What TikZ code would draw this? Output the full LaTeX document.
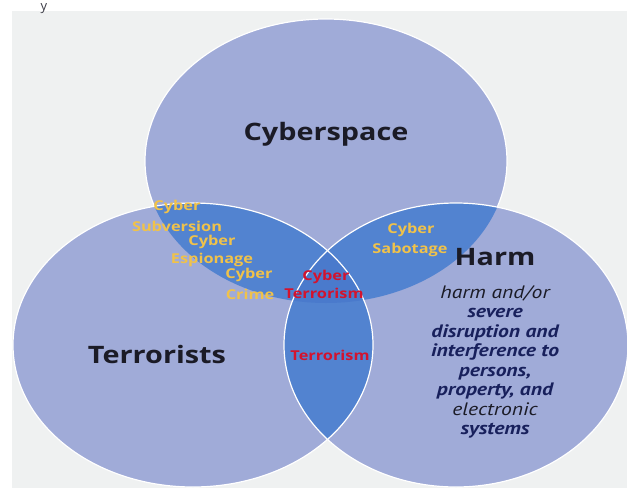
\documentclass[tikz,border=0pt]{standalone}
\usepackage{fontspec}
\usepackage{graphicx}
\setmainfont{Open Sans}
\newfontfamily\ptsans{PT Sans}
\newcommand{\hsx}[1]{\scalebox{1.2}[1]{#1}}
\definecolor{panel}{HTML}{EFF1F1}
\definecolor{ell}{HTML}{A0ABD8}
\definecolor{ovl}{HTML}{5283D0}
\definecolor{tri}{HTML}{4A7ACC}
\definecolor{gold}{HTML}{F0C24A}
\definecolor{redt}{HTML}{D3132E}
\definecolor{navy}{HTML}{18205C}
\definecolor{ink}{HTML}{1B1B26}
\begin{document}
\begin{tikzpicture}[x=1pt,y=1pt]
\tikzset{
 lbl/.style={inner sep=0pt, anchor=base},
 head/.style={lbl, text=ink, font=\fontsize{24}{28}\selectfont\bfseries},
 goldl/.style={lbl, text=gold, font=\fontsize{13.6}{15}\selectfont\bfseries},
 redl/.style={lbl, text=redt, font=\fontsize{13.6}{15}\selectfont\bfseries},
 desc/.style={lbl, text=ink, font=\ptsans\fontsize{18}{20}\selectfont\itshape},
 descb/.style={lbl, text=navy, font=\ptsans\fontsize{18}{20}\selectfont\bfseries\itshape},
 ring/.style={draw=white, line width=1.2pt}
}
\useasboundingbox (0,0) rectangle (627,-488);
\fill[white] (0,0) rectangle (627,-488);
\fill[panel] (12,-11) rectangle (627,-488);
\coordinate (cT) at (326,-161);
\coordinate (cL) at (193,-345);
\coordinate (cR) at (456,-345);
\def\ellT{(cT) ellipse [x radius=181, y radius=142]}
\def\ellL{(cL) ellipse [x radius=180, y radius=142]}
\def\ellR{(cR) ellipse [x radius=172, y radius=142]}
\fill[ell] \ellT; \draw[ring] \ellT;
\fill[ell] \ellL; \fill[ell] \ellR;
\begin{scope}\clip \ellT; \fill[ovl] \ellL; \fill[ovl] \ellR; \end{scope}
\begin{scope}\clip \ellL; \fill[ovl] \ellR; \end{scope}
\begin{scope}\clip \ellT; \clip \ellL; \fill[tri] \ellR; \end{scope}
\draw[ring] \ellL; \draw[ring] \ellR;
% fragment at top
\node[lbl, text=ink!85, font=\fontsize{13}{15}\selectfont] (yf) at (44,-10.5) {y};
% headings
\node[head] (cs) at (326,-140) {\hsx{Cyberspace}};
\node[head] (te) at (157,-363) {\hsx{Terrorists}};
\node[head] (ha) at (495,-265) {\hsx{Harm}};
% gold labels
\node[goldl] (g1) at (177,-210) {\hsx{Cyber}};
\node[goldl] (g2) at (177,-231) {\hsx{Subversion}};
\node[goldl] (g3) at (212,-245) {\hsx{Cyber}};
\node[goldl] (g4) at (212,-263) {\hsx{Espionage}};
\node[goldl] (g5) at (249,-278) {\hsx{Cyber}};
\node[goldl] (g6) at (250,-299) {\hsx{Crime}};
\node[goldl] (s1) at (411,-233) {\hsx{Cyber}};
\node[goldl] (s2) at (410,-253) {\hsx{Sabotage}};
% red labels
\node[redl] (r1) at (326,-280) {\hsx{Cyber}};
\node[redl] (r2) at (324,-298) {\hsx{Terrorism}};
\node[redl] (r3) at (330,-360) {\hsx{Terrorism}};
% description
\node[desc]  (d1) at (495,-298)   {\hsx{harm and/or}};
\node[descb] (d2) at (495,-317.5) {\hsx{severe}};
\node[descb] (d3) at (495,-337)   {\hsx{disruption and}};
\node[descb] (d4) at (495,-356.5) {\hsx{interference to}};
\node[descb] (d5) at (495,-376)   {\hsx{persons,}};
\node[descb] (d6) at (495,-395.5) {\hsx{property, and}};
\node[desc]  (d7) at (495,-415)   {\hsx{electronic}};
\node[descb] (d8) at (495,-434.5) {\hsx{systems}};
\end{tikzpicture}
\end{document}
